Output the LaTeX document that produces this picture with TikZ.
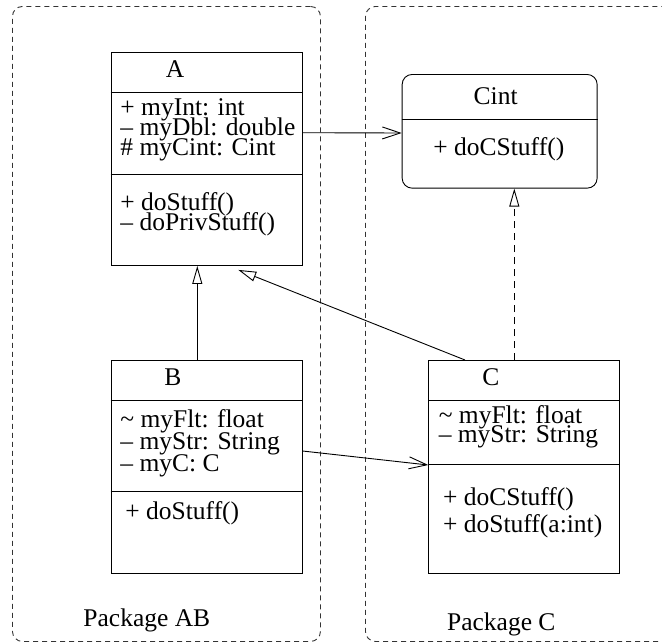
\documentclass[tikz,border=0pt]{standalone}
\usepackage{fontspec}
\setmainfont{Liberation Serif}
\usetikzlibrary{calc,arrows.meta}

\begin{document}
\begin{tikzpicture}[
    x=1pt,
    y=-1pt,
    font=\fontsize{25.5}{20}\selectfont,
    line width=0.9pt,
    pkgbox/.style={draw=black!80, dashed, dash pattern=on 5pt off 4pt, rounded corners=10pt, anchor=north west, inner sep=0pt, minimum width=308pt, minimum height=635pt},
    classbox/.style={draw, anchor=north west, inner sep=0pt, minimum width=191pt, minimum height=212.7pt},
    member/.style={anchor=base west, inner sep=0pt},
    cname/.style={anchor=center, inner sep=0pt},
    assoc/.style={-{Straight Barb[length=18pt,width=12pt]}},
    inherit/.style={-{Triangle[open,length=18pt,width=10pt]}},
    realize/.style={-{Triangle[open,length=18pt,width=10pt]}, dashed, dash pattern=on 7pt off 5pt}
]
\useasboundingbox (0,0) rectangle (662,643);

% Packages.
\node[pkgbox] (pkg_ab) at (12,6) {};
\node[pkgbox, minimum width=320pt] (pkg_c) at (365,6) {};
\node[member] (pkg_ab_lbl) at (83,626) {Package AB};
\node[member] (pkg_c_lbl) at (446.7,630.7) {Package C};

% Class A.
\node[classbox, minimum height=213.3pt] (class_a) at (110.7,51.7) {};
\draw ($(class_a.north west)+(0,40.6)$) -- ($(class_a.north east)+(0,40.6)$);
\draw ($(class_a.north west)+(0,122.3)$) -- ($(class_a.north east)+(0,122.3)$);
\node[cname] (a_name) at (175,69) {A};
\node[member] (a_int) at (120,115) {+ myInt: int};
\node[member] (a_dbl) at (120,135) {\textendash\ myDbl: double};
\node[member] (a_cint) at (120,155.7) {\# myCint: Cint};
\node[member] (a_do) at (120,210.7) {+ doStuff()};
\node[member] (a_priv) at (120,230.7) {\textendash\ doPrivStuff()};

% Interface Cint.
\node[classbox, rounded corners=10pt, minimum width=195pt, minimum height=113.7pt] (cint) at (401.7,74) {};
\draw ($(cint.north west)+(0,45)$) -- ($(cint.north east)+(0,45)$);
\node[cname] (cint_name) at (495.7,96) {Cint};
\node[member] (cint_do) at (433,155) {+ doCStuff()};

% Class B.
\node[classbox] (class_b) at (110.7,360) {};
\draw ($(class_b.north west)+(0,40.7)$) -- ($(class_b.north east)+(0,40.7)$);
\draw ($(class_b.north west)+(0,131.7)$) -- ($(class_b.north east)+(0,131.7)$);
\node[cname] (b_name) at (173,377) {B};
\node[member] (b_flt) at (120,427.7) {\textasciitilde\ myFlt: float};
\node[member] (b_str) at (120,449.3) {\textendash\ myStr: String};
\node[member] (b_c) at (120,471.7) {\textendash\ myC: C};
\node[member] (b_do) at (125,519) {+ doStuff()};

% Class C.
\node[classbox] (class_c) at (428.3,360) {};
\draw ($(class_c.north west)+(0,40.7)$) -- ($(class_c.north east)+(0,40.7)$);
\draw ($(class_c.north west)+(0,104.3)$) -- ($(class_c.north east)+(0,104.3)$);
\node[cname] (c_name) at (491,377) {C};
\node[member] (c_flt) at (438.3,423.3) {\textasciitilde\ myFlt: float};
\node[member] (c_str) at (438.3,442.7) {\textendash\ myStr: String};
\node[member] (c_cdo) at (442.7,505) {+ doCStuff()};
\node[member] (c_do) at (442.7,532.3) {+ doStuff(a:int)};

% Relations.
\draw[assoc] ($(class_a.north east)+(0,81)$) -- ($(cint.north west)+(0,59)$);
\draw[assoc] ($(class_b.north east)+(0,91)$) -- ($(class_c.north west)+(0,105)$);
\draw[inherit] ($(class_b.north west)+(86.6,0)$) -- ($(class_a.south west)+(86.6,0)$);
\draw[inherit] ($(class_c.north west)+(36.7,0)$) -- ($(class_a.south west)+(127.6,4)$);
\draw[realize] ($(class_c.north west)+(86,0)$) -- ($(cint.south west)+(112.6,0)$);

\end{tikzpicture}
\end{document}
